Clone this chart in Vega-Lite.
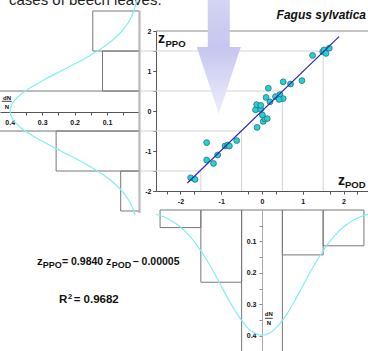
{
  "$schema": "https://vega.github.io/schema/vega-lite/v6.json",
  "width": 368,
  "height": 351,
  "autosize": {"type": "none"},
  "padding": 0,
  "background": "white",
  "config": {
    "view": {"stroke": null},
    "axis": {"title": null, "grid": false, "labelFont": "Liberation Sans", "labelFontWeight": "bold", "labelFontSize": 7, "labelColor": "#111", "tickColor": "#555", "domainColor": "#555", "tickSize": 3, "domainWidth": 1, "tickWidth": 1, "labelFlush": false, "labelOverlap": false}
  },
  "datasets": {
    "points": [
      {"pod": -1.75, "ppo": -1.67}, {"pod": -1.643, "ppo": -1.71}, {"pod": -1.357, "ppo": -0.79}, {"pod": -1.357, "ppo": -1.225},
      {"pod": -1.19, "ppo": -1.31}, {"pod": -1.087, "ppo": -1.1}, {"pod": -0.907, "ppo": -0.875}, {"pod": -0.842, "ppo": -0.85},
      {"pod": -0.8, "ppo": -0.875}, {"pod": -0.62, "ppo": -0.74}, {"pod": -0.12, "ppo": -0.41}, {"pod": 0.03, "ppo": -0.26},
      {"pod": 0.074, "ppo": -0.2}, {"pod": 0.13, "ppo": -0.19}, {"pod": 0.01, "ppo": -0.1}, {"pod": -0.16, "ppo": 0.03},
      {"pod": -0.03, "ppo": 0.04}, {"pod": -0.13, "ppo": 0.16}, {"pod": -0.03, "ppo": 0.14}, {"pod": 0.1, "ppo": 0.34},
      {"pod": 0.155, "ppo": 0.57}, {"pod": 0.196, "ppo": 0.23}, {"pod": 0.33, "ppo": 0.36}, {"pod": 0.44, "ppo": 0.41},
      {"pod": 0.52, "ppo": 0.31}, {"pod": 0.42, "ppo": 0.29}, {"pod": 0.52, "ppo": 0.73}, {"pod": 0.7, "ppo": 0.675},
      {"pod": 0.98, "ppo": 0.76}, {"pod": 1.24, "ppo": 1.39}, {"pod": 1.49, "ppo": 1.48}, {"pod": 1.52, "ppo": 1.525},
      {"pod": 1.57, "ppo": 1.44}, {"pod": 1.65, "ppo": 1.57}
    ],
    "reg": [{"pod": -1.83, "ppo": -1.80}, {"pod": 1.89, "ppo": 1.86}],
    "grid": [{"k": -1.5}, {"k": -0.5}, {"k": 0.5}, {"k": 1.5}],
    "leftBars": [
      {"lo": 1.5, "hi": 2.5, "d": 0.144}, {"lo": 0.5, "hi": 1.5, "d": 0.114}, {"lo": -0.5, "hi": 0.5, "d": 0.6},
      {"lo": -1.5, "hi": -0.5, "d": 0.257}, {"lo": -2.5, "hi": -1.5, "d": 0.058}
    ],
    "bottomBars": [
      {"lo": -2.5, "hi": -1.5, "d": 0.056}, {"lo": -1.5, "hi": -0.5, "d": 0.23}, {"lo": -0.5, "hi": 0.5, "d": 0.6},
      {"lo": 0.5, "hi": 1.5, "d": 0.143}, {"lo": 1.5, "hi": 2.5, "d": 0.114}
    ],
    "curve": [
      {"z": -2.6, "d": 0.0136}, {"z": -2.4, "d": 0.0224}, {"z": -2.2, "d": 0.0355}, {"z": -2.0, "d": 0.054},
      {"z": -1.8, "d": 0.079}, {"z": -1.6, "d": 0.1109}, {"z": -1.4, "d": 0.1497}, {"z": -1.2, "d": 0.1942},
      {"z": -1.0, "d": 0.242}, {"z": -0.8, "d": 0.2897}, {"z": -0.6, "d": 0.3332}, {"z": -0.4, "d": 0.3683},
      {"z": -0.2, "d": 0.391}, {"z": 0.0, "d": 0.3989}, {"z": 0.2, "d": 0.391}, {"z": 0.4, "d": 0.3683},
      {"z": 0.6, "d": 0.3332}, {"z": 0.8, "d": 0.2897}, {"z": 1.0, "d": 0.242}, {"z": 1.2, "d": 0.1942},
      {"z": 1.4, "d": 0.1497}, {"z": 1.6, "d": 0.1109}, {"z": 1.8, "d": 0.079}, {"z": 2.0, "d": 0.054},
      {"z": 2.2, "d": 0.0355}, {"z": 2.4, "d": 0.0224}, {"z": 2.6, "d": 0.0136}, {"z": 2.8, "d": 0.0079}
    ],
    "arrow": [
      {"ay": 2.8, "ax1": -1.33, "ax2": -0.79}, {"ay": 1.601, "ax1": -1.33, "ax2": -0.79},
      {"ay": 1.6, "ax1": -1.6, "ax2": -0.52}, {"ay": -0.075, "ax1": -1.06, "ax2": -1.06}
    ]
  },
  "layer": [
    {
      "data": {"values": [{}]},
      "layer": [
        {
          "data": {"name": "grid"},
          "mark": {"type": "rule", "color": "#d4d4d4", "strokeWidth": 1},
          "encoding": {
            "x": {"field": "k", "type": "quantitative", "scale": {"domain": [-2.6, 2.6], "range": [156, 368], "nice": false, "zero": false},
              "axis": {"disable": false, "title": null, "orient": "bottom", "offset": -160, "labelOverlap": false, "labelBound": false, "values": [-2, -1, 0, 1, 2], "labelExpr": "toString(round(datum.value))", "labelPadding": 3}},
            "x2": {"datum": -2.99},
            "y": {"field": "k", "type": "quantitative", "scale": {"domain": [-2, 2], "range": [191, 31], "nice": false, "zero": false},
              "axis": {"disable": false, "title": null, "orient": "left", "offset": -156, "labelOverlap": false, "labelBound": false, "values": [-2, -1, 0, 1, 2], "labelExpr": "toString(round(datum.value))", "labelPadding": 2}}
          }
        },
        {
          "data": {"name": "grid"},
          "mark": {"type": "rule", "color": "#d4d4d4", "strokeWidth": 1},
          "encoding": {
            "x": {"field": "k", "type": "quantitative"},
            "y": {"field": "k", "type": "quantitative"},
            "y2": {"datum": -2}
          }
        },
        {
          "mark": {"type": "rule", "color": "#8a8a8a", "strokeWidth": 1},
          "encoding": {
            "x": {"datum": -2.6, "type": "quantitative"},
            "x2": {"datum": 2.6},
            "y": {"datum": 2, "type": "quantitative"}
          }
        },
        {
          "data": {"name": "arrow"},
          "mark": {"type": "area", "orient": "horizontal", "interpolate": "linear",
            "fill": {"gradient": "linear", "x1": 0, "y1": 0, "x2": 0, "y2": 1, "stops": [{"offset": 0, "color": "#d4d4f4"}, {"offset": 0.42, "color": "#c6c6f0"}, {"offset": 1, "color": "#eeeefc"}]}},
          "encoding": {
            "y": {"field": "ay", "type": "quantitative"},
            "x": {"field": "ax1", "type": "quantitative", "stack": null},
            "x2": {"field": "ax2"}
          }
        },
        {
          "data": {"name": "points"},
          "mark": {"type": "point", "shape": "circle", "filled": true, "size": 34, "fill": "#22d3d3", "stroke": "#2a6f7f", "strokeWidth": 0.8, "opacity": 1},
          "encoding": {
            "x": {"field": "pod", "type": "quantitative"},
            "y": {"field": "ppo", "type": "quantitative"}
          }
        },
        {
          "data": {"name": "reg"},
          "mark": {"type": "line", "color": "#2a2ab4", "strokeWidth": 1.2},
          "encoding": {
            "x": {"field": "pod", "type": "quantitative"},
            "y": {"field": "ppo", "type": "quantitative"}
          }
        },
        {
          "mark": {"type": "text", "text": "cases of beech leaves.", "font": "Liberation Sans", "fontSize": 15, "align": "left", "baseline": "alphabetic", "color": "#222"},
          "encoding": {"x": {"datum": -6.206, "type": "quantitative"}, "y": {"datum": 2.65, "type": "quantitative"}}
        },
        {
          "mark": {"type": "text", "text": "Fagus sylvatica", "font": "Liberation Sans", "fontSize": 12, "fontWeight": "bold", "fontStyle": "italic", "align": "right", "baseline": "alphabetic", "color": "#111"},
          "encoding": {"x": {"datum": 2.551, "type": "quantitative"}, "y": {"datum": 2.3, "type": "quantitative"}}
        },
        {
          "mark": {"type": "text", "text": "z", "font": "Liberation Sans", "fontSize": 14, "fontWeight": "bold", "align": "left", "baseline": "alphabetic", "color": "#111"},
          "encoding": {"x": {"datum": -2.551, "type": "quantitative"}, "y": {"datum": 1.7, "type": "quantitative"}}
        },
        {
          "mark": {"type": "text", "text": "PPO", "font": "Liberation Sans", "fontSize": 9.5, "fontWeight": "bold", "align": "left", "baseline": "alphabetic", "color": "#111"},
          "encoding": {"x": {"datum": -2.367, "type": "quantitative"}, "y": {"datum": 1.6075, "type": "quantitative"}}
        },
        {
          "mark": {"type": "text", "text": "z", "font": "Liberation Sans", "fontSize": 14, "fontWeight": "bold", "align": "left", "baseline": "alphabetic", "color": "#111"},
          "encoding": {"x": {"datum": 1.864, "type": "quantitative"}, "y": {"datum": -1.8375, "type": "quantitative"}}
        },
        {
          "mark": {"type": "text", "text": "POD", "font": "Liberation Sans", "fontSize": 9.5, "fontWeight": "bold", "align": "left", "baseline": "alphabetic", "color": "#111"},
          "encoding": {"x": {"datum": 2.036, "type": "quantitative"}, "y": {"datum": -1.9325, "type": "quantitative"}}
        },
        {
          "mark": {"type": "text", "text": "z", "font": "Liberation Sans", "fontSize": 11.5, "fontWeight": "bold", "align": "left", "baseline": "alphabetic", "color": "#111"},
          "encoding": {"x": {"datum": -5.519, "type": "quantitative"}, "y": {"datum": -3.85, "type": "quantitative"}}
        },
        {
          "mark": {"type": "text", "text": "PPO", "font": "Liberation Sans", "fontSize": 9, "fontWeight": "bold", "align": "left", "baseline": "alphabetic", "color": "#111"},
          "encoding": {"x": {"datum": -5.377, "type": "quantitative"}, "y": {"datum": -3.9325, "type": "quantitative"}}
        },
        {
          "mark": {"type": "text", "text": "= 0.9840 z", "font": "Liberation Sans", "fontSize": 10.5, "fontWeight": "bold", "align": "left", "baseline": "alphabetic", "color": "#111"},
          "encoding": {"x": {"datum": -4.906, "type": "quantitative"}, "y": {"datum": -3.85, "type": "quantitative"}}
        },
        {
          "mark": {"type": "text", "text": "POD", "font": "Liberation Sans", "fontSize": 9, "fontWeight": "bold", "align": "left", "baseline": "alphabetic", "color": "#111"},
          "encoding": {"x": {"datum": -3.684, "type": "quantitative"}, "y": {"datum": -3.9325, "type": "quantitative"}}
        },
        {
          "mark": {"type": "text", "text": "− 0.00005", "font": "Liberation Sans", "fontSize": 10.5, "fontWeight": "bold", "align": "left", "baseline": "alphabetic", "color": "#111"},
          "encoding": {"x": {"datum": -3.176, "type": "quantitative"}, "y": {"datum": -3.85, "type": "quantitative"}}
        },
        {
          "mark": {"type": "text", "text": "R", "font": "Liberation Sans", "fontSize": 11.5, "fontWeight": "bold", "align": "left", "baseline": "alphabetic", "color": "#111"},
          "encoding": {"x": {"datum": -4.977, "type": "quantitative"}, "y": {"datum": -4.8075, "type": "quantitative"}}
        },
        {
          "mark": {"type": "text", "text": "2", "font": "Liberation Sans", "fontSize": 7.5, "fontWeight": "bold", "align": "left", "baseline": "alphabetic", "color": "#111"},
          "encoding": {"x": {"datum": -4.76, "type": "quantitative"}, "y": {"datum": -4.7, "type": "quantitative"}}
        },
        {
          "mark": {"type": "text", "text": "= 0.9682", "font": "Liberation Sans", "fontSize": 11.5, "fontWeight": "bold", "align": "left", "baseline": "alphabetic", "color": "#111"},
          "encoding": {"x": {"datum": -4.62, "type": "quantitative"}, "y": {"datum": -4.8075, "type": "quantitative"}}
        }
      ]
    },
    {
      "data": {"values": [{}]},
      "layer": [
        {
          "data": {"name": "leftBars"},
          "mark": {"type": "rect", "fill": null, "stroke": "#777", "strokeWidth": 1},
          "encoding": {
            "x": {"field": "d", "type": "quantitative", "scale": {"domain": [0, 0.43], "range": [139.5, 0], "nice": false, "zero": false},
              "axis": {"disable": false, "title": null, "orient": "bottom", "offset": -239, "labelOverlap": false, "labelBound": false, "values": [0.05, 0.1, 0.15, 0.2, 0.25, 0.3, 0.35, 0.4], "labelExpr": "round(datum.value * 100) % 10 == 0 ? format(datum.value, '.1f') : ''", "labelPadding": 3}},
            "x2": {"datum": 0},
            "y": {"field": "lo", "type": "quantitative", "scale": {"domain": [-2, 2], "range": [191, 31], "nice": false, "zero": false},
              "axis": {"disable": false, "title": null, "orient": "left", "offset": -156, "labels": false, "domain": false, "values": [-2, -1.75, -1.5, -1.25, -1, -0.75, -0.5, -0.25, 0, 0.25, 0.5, 0.75, 1, 1.25, 1.5, 1.75, 2]}},
            "y2": {"field": "hi"}
          }
        },
        {
          "data": {"name": "curve"},
          "mark": {"type": "line", "color": "#7ff0f0", "strokeWidth": 1.2, "interpolate": "catmull-rom"},
          "encoding": {
            "x": {"field": "d", "type": "quantitative"},
            "y": {"field": "z", "type": "quantitative"},
            "order": {"field": "z", "type": "quantitative"}
          }
        },
        {
          "mark": {"type": "rule", "color": "#b8b8b8", "strokeWidth": 2.2},
          "encoding": {
            "x": {"datum": 0, "type": "quantitative"},
            "y": {"datum": -2.55, "type": "quantitative"},
            "y2": {"datum": 2.5}
          }
        },
        {
          "mark": {"type": "text", "text": "dN", "font": "Liberation Sans", "fontSize": 6, "fontWeight": "bold", "align": "center", "baseline": "alphabetic", "color": "#111"},
          "encoding": {"x": {"datum": 0.4084, "type": "quantitative"}, "y": {"datum": 0.275, "type": "quantitative"}}
        },
        {
          "mark": {"type": "text", "text": "N", "font": "Liberation Sans", "fontSize": 6, "fontWeight": "bold", "align": "center", "baseline": "alphabetic", "color": "#111"},
          "encoding": {"x": {"datum": 0.4084, "type": "quantitative"}, "y": {"datum": 0.0625, "type": "quantitative"}}
        },
        {
          "mark": {"type": "rule", "color": "#111", "strokeWidth": 0.8},
          "encoding": {
            "x": {"datum": 0.4248, "type": "quantitative"},
            "x2": {"datum": 0.394},
            "y": {"datum": 0.2425, "type": "quantitative"}
          }
        }
      ]
    },
    {
      "data": {"values": [{}]},
      "layer": [
        {
          "data": {"name": "bottomBars"},
          "mark": {"type": "rect", "fill": null, "stroke": "#777", "strokeWidth": 1},
          "encoding": {
            "x": {"field": "lo", "type": "quantitative", "scale": {"domain": [-2.6, 2.6], "range": [156, 368], "nice": false, "zero": false},
              "axis": {"disable": false, "title": null, "orient": "bottom", "offset": -160, "labels": false, "domain": false, "values": [-2.333, -2, -1.667, -1.333, -1, -0.667, -0.333, 0, 0.333, 0.667, 1, 1.333, 1.667, 2, 2.333]}},
            "x2": {"field": "hi"},
            "y": {"field": "d", "type": "quantitative", "scale": {"domain": [0, 0.45], "range": [210, 351.3], "nice": false, "zero": false},
              "axis": {"disable": false, "title": null, "orient": "left", "offset": -262, "labelOverlap": false, "labelBound": false, "values": [0.05, 0.1, 0.15, 0.2, 0.25, 0.3, 0.35, 0.4], "labelExpr": "round(datum.value * 100) % 10 == 0 ? format(datum.value, '.1f') : ''", "labelPadding": 3, "domainColor": "#aaa", "tickColor": "#888"}},
            "y2": {"datum": 0}
          }
        },
        {
          "data": {"name": "curve"},
          "mark": {"type": "line", "color": "#7ff0f0", "strokeWidth": 1.2, "interpolate": "catmull-rom"},
          "encoding": {
            "x": {"field": "z", "type": "quantitative"},
            "y": {"field": "d", "type": "quantitative"},
            "order": {"field": "z", "type": "quantitative"}
          }
        },
        {
          "mark": {"type": "text", "text": "dN", "font": "Liberation Sans", "fontSize": 6, "fontWeight": "bold", "align": "center", "baseline": "alphabetic", "color": "#111"},
          "encoding": {"x": {"datum": 0.167, "type": "quantitative"}, "y": {"datum": 0.3376, "type": "quantitative"}}
        },
        {
          "mark": {"type": "text", "text": "N", "font": "Liberation Sans", "fontSize": 6, "fontWeight": "bold", "align": "center", "baseline": "alphabetic", "color": "#111"},
          "encoding": {"x": {"datum": 0.167, "type": "quantitative"}, "y": {"datum": 0.3662, "type": "quantitative"}}
        },
        {
          "mark": {"type": "rule", "color": "#111", "strokeWidth": 0.8},
          "encoding": {
            "x": {"datum": 0.0736, "type": "quantitative"},
            "x2": {"datum": 0.2625},
            "y": {"datum": 0.345, "type": "quantitative"}
          }
        }
      ]
    }
  ],
  "resolve": {"scale": {"x": "independent", "y": "independent"}}
}
